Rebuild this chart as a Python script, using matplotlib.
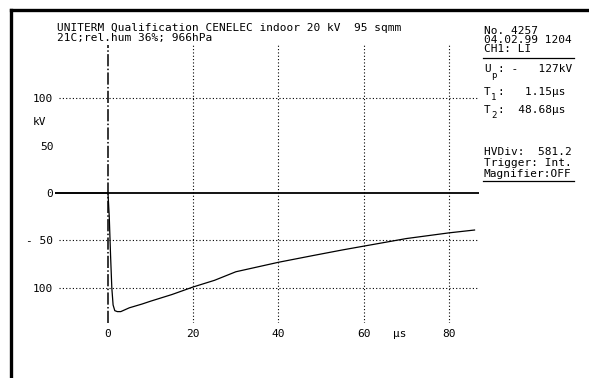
import matplotlib.pyplot as plt
from matplotlib.lines import Line2D

plt.rcParams['font.family'] = ['DejaVu Sans Mono']

# impulse trace (time in us, voltage in kV)
t = [-12.5, -5, 0, 0.3, 0.6, 0.9, 1.2, 1.6, 2.2, 3.0, 4.0, 5.0, 8.0, 10.0, 15.0,
     20.0, 25.0, 30.0, 35.0, 40.0, 48.0, 55.0, 60.0, 70.0, 80.0, 86.0]
u = [0, 0, 0, -25, -65, -100, -118, -124, -125, -125, -123, -121, -117, -114, -107,
     -99, -92, -83, -78, -73, -66, -60, -56, -48, -42, -39]

xticks = [0, 20, 40, 60, 80]
xlabels = ['0', '20', '40', '60', '80']
yticks = [100, 50, 0, -50, -100]
ylabels = ['100', '50', '0', '- 50', '100']
hgrid = [100, -50, -100]

W, H = 589, 378
fig = plt.figure(figsize=(W / 100, H / 100), dpi=100)

def fx(x):
    return x / W

def fy(y):
    return 1 - y / H

# axes placed so data maps to the pixel positions in the reference
left, right, top, bottom = 54.7, 478.8, 45, 323
ax = fig.add_axes([fx(left), fy(bottom), fx(right - left), (bottom - top) / H])
ax.set_xlim(-12.5, 87)
ax.set_ylim(-137, 156)
for s in ax.spines.values():
    s.set_visible(False)

# grid
for x in xticks[1:]:
    ax.axvline(x, color='black', lw=0.8, ls=(0, (1, 2)))
for y in hgrid:
    ax.plot([-11.5, 87], [y, y], color='black', lw=0.8, ls=(0, (1, 2)))
ax.axvline(0, color='black', lw=1.1, ls=(0, (8, 1.5, 1, 1.5)))

# zero line and trace
ax.axhline(0, color='black', lw=1.3)
ax.plot(t, u, color='black', lw=0.9)

ax.set_xticks(xticks, labels=xlabels)
ax.set_yticks(yticks, labels=ylabels)
ax.tick_params(length=0, labelsize=8, pad=4)
ax.tick_params(axis='y', pad=1)
ax.text(-14.5, 75, 'kV', fontsize=8, ha='right', va='center')
ax.text(68.5, -143, 'μs', fontsize=8, ha='center', va='top')

# frame of the print-out
fig.add_artist(Line2D([fx(11), 1], [fy(10), fy(10)], color='black', lw=2.4))
fig.add_artist(Line2D([fx(11), fx(11)], [fy(10), 0], color='black', lw=2.4))

# header
fig.text(fx(57), fy(28), 'UNITERM Qualification CENELEC indoor 20 kV  95 sqmm',
         fontsize=8, va='center')
fig.text(fx(57), fy(38), '21C;rel.hum 36%; 966hPa', fontsize=8, va='center')

# info panel
px = 484
fig.text(fx(px), fy(31.5), 'No. 4257', fontsize=8, va='center')
fig.text(fx(px), fy(40), '04.02.99 1204', fontsize=8, va='center')
fig.text(fx(px), fy(48.5), 'CH1: LI', fontsize=8, va='center')
fig.add_artist(Line2D([fx(483), fx(574)], [fy(57.5), fy(57.5)], color='black', lw=0.9))

rows = [('U', 'p', ': -   127kV', 69), ('T', '1', ':   1.15μs', 92), ('T', '2', ':  48.68μs', 110)]
for sym, sub, rest, yy in rows:
    fig.text(fx(px), fy(yy), sym, fontsize=8, va='center')
    fig.text(fx(px + 7), fy(yy + 6), sub, fontsize=6.5, va='center')
    fig.text(fx(px + 14), fy(yy), rest, fontsize=8, va='center')

fig.text(fx(px), fy(152), 'HVDiv:  581.2', fontsize=8, va='center')
fig.text(fx(px), fy(163), 'Trigger: Int.', fontsize=8, va='center')
fig.text(fx(px), fy(174), 'Magnifier:OFF', fontsize=8, va='center')
fig.add_artist(Line2D([fx(483), fx(574)], [fy(181), fy(181)], color='black', lw=0.9))

fig.savefig('out.png', dpi=100, facecolor='white')
